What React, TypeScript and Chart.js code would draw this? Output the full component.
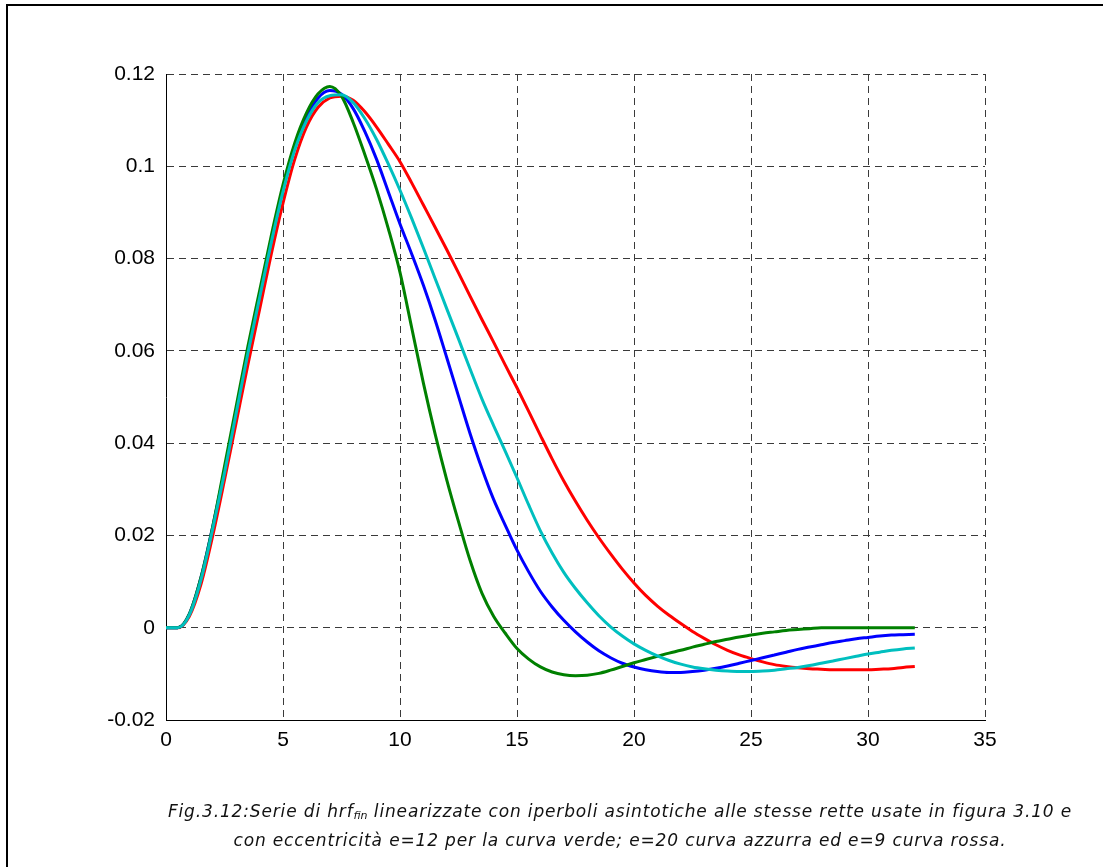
import React, { useEffect, useRef } from "react";
import { Chart, registerables } from "chart.js";

Chart.register(...registerables);

const xValues = [
  0, 0.5, 1, 1.5, 2, 2.5, 3, 3.5, 4, 4.5, 5, 5.5, 6, 6.5, 7, 7.5, 8, 8.5, 9, 9.5,
  10, 10.5, 11, 11.5, 12, 12.5, 13, 13.5, 14, 14.5, 15, 15.5, 16, 16.5, 17, 17.5,
  18, 18.5, 19, 19.5, 20, 20.5, 21, 21.5, 22, 22.5, 23, 23.5, 24, 24.5, 25, 25.5,
  26, 26.5, 27, 27.5, 28, 28.5, 29, 29.5, 30, 30.5, 31, 31.5, 32,
];

// e=12 (verde)
const greenValues = [
  0, 0, 0.003, 0.011, 0.022, 0.035, 0.048, 0.061, 0.073, 0.085, 0.096, 0.105, 0.1115, 0.1157, 0.1173, 0.1152,
  0.1095, 0.1025, 0.095, 0.0865, 0.077, 0.065, 0.053, 0.042, 0.032, 0.023, 0.0145, 0.0075, 0.0025, -0.0012,
  -0.0045, -0.0068, -0.0085, -0.0096, -0.0102, -0.0104, -0.0103, -0.0099, -0.0092, -0.0084, -0.0076, -0.0069,
  -0.0062, -0.0055, -0.0049, -0.0042, -0.0036, -0.003, -0.0025, -0.002, -0.0016, -0.0012, -0.0009, -0.0006,
  -0.0004, -0.0002, 0, 0, 0, 0, 0, 0, 0, 0, 0,
];

// blu
const blueValues = [
  0, 0, 0.003, 0.011, 0.022, 0.034, 0.047, 0.06, 0.072, 0.084, 0.095, 0.104, 0.1105, 0.1148, 0.1164, 0.1156,
  0.1125, 0.1075, 0.1015, 0.0945, 0.0875, 0.081, 0.0742, 0.0667, 0.0585, 0.0502, 0.042, 0.0345, 0.0278, 0.0222,
  0.0168, 0.0121, 0.0079, 0.0045, 0.0016, -0.0009, -0.0031, -0.005, -0.0065, -0.0077, -0.0085, -0.0091,
  -0.0095, -0.0097, -0.0097, -0.0095, -0.0092, -0.0088, -0.0083, -0.0077, -0.0071, -0.0065, -0.0059, -0.0053,
  -0.0047, -0.0042, -0.0037, -0.0032, -0.0028, -0.0024, -0.0021, -0.0018, -0.0016, -0.0015, -0.0014,
];

// e=20 (azzurra)
const cyanValues = [
  0, 0, 0.0028, 0.0105, 0.0215, 0.0335, 0.0465, 0.0595, 0.0715, 0.0835, 0.0945, 0.1035, 0.1098, 0.1138, 0.1153,
  0.1155, 0.1138, 0.1103, 0.1058, 0.1005, 0.0948, 0.0887, 0.0823, 0.0757, 0.0691, 0.0626, 0.056, 0.0496, 0.0438,
  0.0382, 0.0325, 0.0266, 0.021, 0.0162, 0.012, 0.0085, 0.0054, 0.0026, 0.0002, -0.0018, -0.0035, -0.0049,
  -0.0061, -0.0071, -0.0079, -0.0085, -0.0089, -0.0092, -0.0094, -0.0095, -0.0095, -0.0094, -0.0092, -0.0089,
  -0.0086, -0.0082, -0.0077, -0.0072, -0.0067, -0.0062, -0.0057, -0.0053, -0.0049, -0.0046, -0.0044,
];

// e=9 (rossa)
const redValues = [
  0, 0, 0.0025, 0.0095, 0.02, 0.032, 0.0445, 0.057, 0.069, 0.081, 0.092, 0.1015, 0.1085, 0.1128, 0.1148, 0.1152,
  0.1143, 0.1118, 0.1085, 0.1048, 0.101, 0.0964, 0.0916, 0.0868, 0.0819, 0.0769, 0.0718, 0.0668, 0.0619, 0.0569,
  0.052, 0.0469, 0.0417, 0.0366, 0.0318, 0.0274, 0.0233, 0.0195, 0.016, 0.0127, 0.0097, 0.007, 0.0047, 0.0027,
  0.0009, -0.0008, -0.0023, -0.0037, -0.0049, -0.0059, -0.0067, -0.0074, -0.008, -0.0084, -0.0087, -0.0089,
  -0.009, -0.0091, -0.0091, -0.0091, -0.0091, -0.009, -0.0089, -0.0086, -0.0084,
];

const xTicks = { min: 0, max: 35, step: 5 };
const yTicks = { min: -0.02, max: 0.12, step: 0.02 };

const toPoints = (vals: number[]) => vals.map((y, i) => ({ x: xValues[i], y }));

export default function App() {
  const canvasRef = useRef<HTMLCanvasElement | null>(null);

  useEffect(() => {
    if (!canvasRef.current) return;
    const font = { family: "'Liberation Sans', Arial, sans-serif", size: 21 };
    const common = {
      pointRadius: 0,
      borderWidth: 3,
      fill: false,
      cubicInterpolationMode: "monotone" as const,
    };
    const chart = new Chart(canvasRef.current, {
      type: "line",
      data: {
        datasets: [
          { ...common, label: "e=20", data: toPoints(cyanValues), borderColor: "#00bfbf", order: 0 },
          { ...common, label: "e=12", data: toPoints(greenValues), borderColor: "#008000", order: 1 },
          { ...common, label: "blu", data: toPoints(blueValues), borderColor: "#0000ff", order: 2 },
          { ...common, label: "e=9", data: toPoints(redValues), borderColor: "#ff0000", order: 3 },
        ],
      },
      options: {
        animation: false,
        responsive: false,
        layout: { padding: { left: 0, right: 118, top: 74, bottom: 0 } },
        plugins: { legend: { display: false }, tooltip: { enabled: false } },
        scales: {
          x: {
            type: "linear",
            min: xTicks.min,
            max: xTicks.max,
            ticks: { stepSize: xTicks.step, color: "#000", font, padding: 8, maxRotation: 0 },
            grid: { color: "#3a3a3a", lineWidth: 1, drawTicks: false },
            border: { display: true, color: "#000", width: 1, dash: [7, 5] },
            afterFit: (s: any) => {
              s.height = 147;
            },
          },
          y: {
            type: "linear",
            min: yTicks.min,
            max: yTicks.max,
            ticks: {
              stepSize: yTicks.step,
              color: "#000",
              font,
              padding: 11,
              callback: (v: any) => String(Number(Number(v).toFixed(2))),
            },
            grid: { color: "#3a3a3a", lineWidth: 1, drawTicks: false },
            border: { display: true, color: "#000", width: 1, dash: [7, 5] },
            afterFit: (s: any) => {
              s.width = 166;
            },
          },
        },
      },
    });
    return () => chart.destroy();
  }, []);

  return (
    <div style={{ position: "absolute", left: 0, top: 0, width: 1103, height: 867, background: "#fff", overflow: "hidden" }}>
      <canvas ref={canvasRef} width={1103} height={867} style={{ position: "absolute", left: 0, top: 0 }} />
      <div style={{ position: "absolute", left: 6, top: 4, width: 1097, height: 2, background: "#000" }} />
      <div style={{ position: "absolute", left: 6, top: 4, width: 2, height: 863, background: "#000" }} />
      <div
        style={{
          position: "absolute",
          left: 70,
          top: 799,
          width: 1100,
          textAlign: "center",
          fontFamily: "'DejaVu Sans', Verdana, sans-serif",
          fontStyle: "italic",
          fontSize: 17,
          letterSpacing: "0.85px",
          lineHeight: "25px",
          color: "#111",
          whiteSpace: "nowrap",
        }}
      >
        <div>
          Fig.3.12:Serie di hrf<sub style={{ fontSize: 11, verticalAlign: "-2px", letterSpacing: 0 }}>fin</sub> linearizzate con iperboli asintotiche alle stesse rette usate in figura 3.10 e
        </div>
        <div>con eccentricità e=12 per la curva verde; e=20 curva azzurra ed e=9 curva rossa.</div>
      </div>
    </div>
  );
}
